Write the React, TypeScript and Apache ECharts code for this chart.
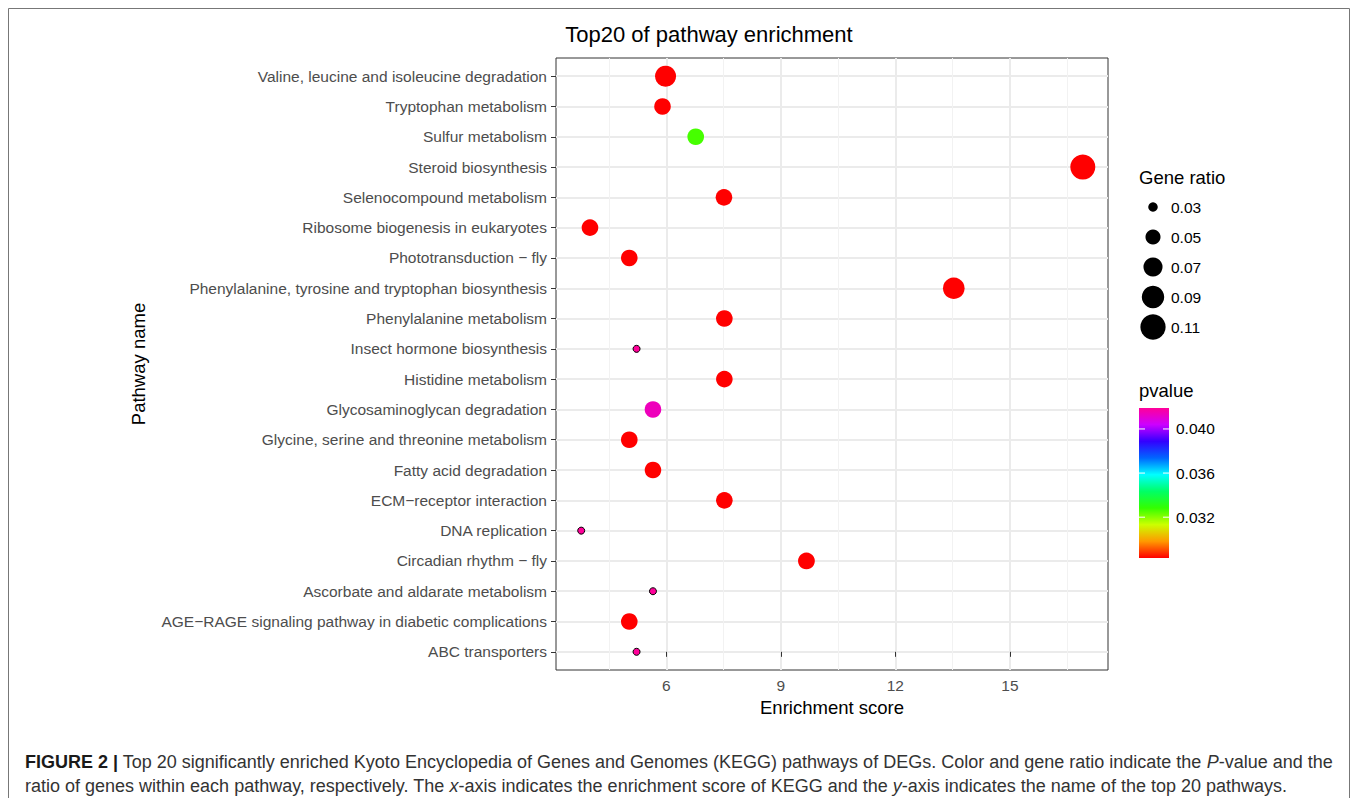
import React, { useEffect, useRef } from "react";
import * as echarts from "echarts";

// ---------- data (bottom to top, as in the plot) ----------
const pathways = [
  "ABC transporters",
  "AGE\u2212RAGE signaling pathway in diabetic complications",
  "Ascorbate and aldarate metabolism",
  "Circadian rhythm \u2212 fly",
  "DNA replication",
  "ECM\u2212receptor interaction",
  "Fatty acid degradation",
  "Glycine, serine and threonine metabolism",
  "Glycosaminoglycan degradation",
  "Histidine metabolism",
  "Insect hormone biosynthesis",
  "Phenylalanine metabolism",
  "Phenylalanine, tyrosine and tryptophan biosynthesis",
  "Phototransduction \u2212 fly",
  "Ribosome biogenesis in eukaryotes",
  "Selenocompound metabolism",
  "Steroid biosynthesis",
  "Sulfur metabolism",
  "Tryptophan metabolism",
  "Valine, leucine and isoleucine degradation",
];
const enrichmentScore = [
  5.22, 5.03, 5.65, 9.67, 3.77, 7.52, 5.65, 5.03, 5.65, 7.52,
  5.22, 7.52, 13.53, 5.03, 4.0, 7.51, 16.91, 6.77, 5.9, 5.98,
];
const geneRatio = [
  0.024, 0.057, 0.024, 0.058, 0.024, 0.057, 0.057, 0.057, 0.057, 0.057,
  0.024, 0.057, 0.085, 0.057, 0.057, 0.057, 0.108, 0.057, 0.057, 0.081,
];
const pValue = [
  0.0419, 0.0283, 0.0419, 0.0283, 0.0419, 0.0283, 0.0283, 0.0283, 0.0414, 0.0283,
  0.0419, 0.0283, 0.0283, 0.0283, 0.0283, 0.0283, 0.0283, 0.03265, 0.0283, 0.0283,
];

const xMajorTicks = [6, 9, 12, 15];
const xMinorTicks = [4.5, 7.5, 10.5, 13.5, 16.5];
const sizeBreaks = [0.03, 0.05, 0.07, 0.09, 0.11];
const sizeBreakLabels = ["0.03", "0.05", "0.07", "0.09", "0.11"];
const pBreaks = [0.032, 0.036, 0.04];
const pBreakLabels = ["0.032", "0.036", "0.040"];
const rainbow10 = [
  "#FF0000", "#FF9900", "#CCFF00", "#33FF00", "#00FF66",
  "#00FFFF", "#0066FF", "#3300FF", "#CC00FF", "#FF0099",
];

// scales
const RATIO_MIN = 0.024;
const RATIO_MAX = 0.108;
const D_MIN = 7;
const D_MAX = 25;
const P_MIN = 0.0283;
const P_MAX = 0.0419;
const X_MIN = 3.11;
const X_MAX = 17.57;

function sizeOf(r: number) {
  const t = (r - RATIO_MIN) / (RATIO_MAX - RATIO_MIN);
  const a0 = (D_MIN / 2) ** 2;
  const a1 = (D_MAX / 2) ** 2;
  return 2 * Math.sqrt(Math.max(0, a0 + t * (a1 - a0)));
}

const FONT = "'Liberation Sans', Arial, Helvetica, sans-serif";

export default function App() {
  const ref = useRef<HTMLDivElement>(null);

  useEffect(() => {
    const chart = echarts.init(ref.current!, null, { renderer: "svg" });

    const points = pathways.map((name, i) => ({
      name,
      value: [enrichmentScore[i], i, geneRatio[i], pValue[i]],
      itemStyle:
        geneRatio[i] < 0.03
          ? { borderColor: "#000", borderWidth: 1, opacity: 1 }
          : { borderWidth: 0, opacity: 1 },
    }));

    const graphics: any[] = [];
    // outer frame
    graphics.push({
      type: "rect",
      silent: true,
      shape: { x: 0.5, y: 0.5, width: 1341, height: 830 },
      style: { fill: "none", stroke: "#777", lineWidth: 1 },
    });
    // size legend
    graphics.push({
      type: "text",
      x: 1131,
      y: 169,
      style: { text: "Gene ratio", font: `18.5px ${FONT}`, fill: "#000", verticalAlign: "middle" },
    });
    sizeBreaks.forEach((b, i) => {
      const cy = 199 + i * 30;
      graphics.push({
        type: "circle",
        shape: { cx: 1145, cy, r: sizeOf(b) / 2 },
        style: { fill: "#000" },
      });
      graphics.push({
        type: "text",
        x: 1163,
        y: cy,
        style: { text: sizeBreakLabels[i], font: `15.5px ${FONT}`, fill: "#000", verticalAlign: "middle" },
      });
    });
    // colour bar
    const CB_X = 1131, CB_TOP = 400, CB_W = 30, CB_H = 150;
    const pY = (v: number) => CB_TOP + CB_H * (1 - (v - P_MIN) / (P_MAX - P_MIN));
    graphics.push({
      type: "text",
      x: 1131,
      y: 382,
      style: { text: "pvalue", font: `18.5px ${FONT}`, fill: "#000", verticalAlign: "middle" },
    });
    graphics.push({
      type: "rect",
      shape: { x: CB_X, y: CB_TOP, width: CB_W, height: CB_H },
      style: {
        fill: new echarts.graphic.LinearGradient(
          0, 1, 0, 0,
          rainbow10.map((c, i) => ({ offset: i / (rainbow10.length - 1), color: c }))
        ),
      },
    });
    pBreaks.forEach((b, i) => {
      const y = pY(b);
      graphics.push({
        type: "line",
        shape: { x1: CB_X, y1: y, x2: CB_X + 6, y2: y },
        style: { stroke: "#fff", lineWidth: 1 },
      });
      graphics.push({
        type: "line",
        shape: { x1: CB_X + CB_W - 6, y1: y, x2: CB_X + CB_W, y2: y },
        style: { stroke: "#fff", lineWidth: 1 },
      });
      graphics.push({
        type: "text",
        x: 1168,
        y,
        style: { text: pBreakLabels[i], font: `15.5px ${FONT}`, fill: "#000", verticalAlign: "middle" },
      });
    });
    // caption
    const CAP = 18;
    const rich = {
      b: { fontFamily: FONT, fontSize: CAP, fontWeight: "bold", fill: "#1a1a1a" },
      i: { fontFamily: FONT, fontSize: CAP, fontStyle: "italic", fill: "#333" },
      n: { fontFamily: FONT, fontSize: CAP, fill: "#333" },
    };
    graphics.push({
      type: "text",
      x: 17,
      y: 754,
      style: {
        text:
          "{b|FIGURE 2 |}{n| Top 20 significantly enriched Kyoto Encyclopedia of Genes and Genomes (KEGG) pathways of DEGs. Color and gene ratio indicate the }{i|P}{n|-value and the}",
        rich,
        font: `${CAP}px ${FONT}`,
        fill: "#333",
        verticalAlign: "middle",
      },
    });
    graphics.push({
      type: "text",
      x: 17,
      y: 778,
      style: {
        text:
          "{n|ratio of genes within each pathway, respectively. The }{i|x}{n|-axis indicates the enrichment score of KEGG and the }{i|y}{n|-axis indicates the name of the top 20 pathways.}",
        rich,
        font: `${CAP}px ${FONT}`,
        fill: "#333",
        verticalAlign: "middle",
      },
    });

    const option: any = {
      animation: false,
      backgroundColor: "#fff",
      title: {
        text: "Top20 of pathway enrichment",
        left: 696,
        top: 10,
        textAlign: "center",
        textStyle: { fontFamily: FONT, fontSize: 22, fontWeight: "normal", color: "#000" },
      },
      grid: {
        left: 548,
        top: 50,
        width: 552,
        height: 612,
        show: true,
        borderColor: "#333",
        borderWidth: 1,
        backgroundColor: "transparent",
        containLabel: false,
      },
      xAxis: [
        {
          type: "value",
          min: X_MIN,
          max: X_MAX,
          name: "Enrichment score",
          nameLocation: "middle",
          nameGap: 28,
          nameTextStyle: { fontFamily: FONT, fontSize: 18.5, color: "#000" },
          axisLine: { show: false },
          axisTick: {
            show: true,
            length: 5,
            customValues: xMajorTicks,
            lineStyle: { color: "#333", width: 1 },
          },
          axisLabel: {
            customValues: xMajorTicks,
            margin: 7,
            fontFamily: FONT,
            fontSize: 15.5,
            color: "#4D4D4D",
          },
          splitLine: { show: true, lineStyle: { color: "#EBEBEB", width: 2 } },
        },
        {
          type: "value",
          min: X_MIN,
          max: X_MAX,
          position: "bottom",
          axisLine: { show: false },
          axisTick: { show: false, customValues: xMinorTicks },
          axisLabel: { show: false, customValues: xMinorTicks },
          splitLine: { show: true, lineStyle: { color: "#F2F2F2", width: 1 } },
        },
      ],
      yAxis: {
        type: "value",
        min: -0.6,
        max: 19.6,
        name: "Pathway name",
        nameLocation: "middle",
        nameRotate: 90,
        nameGap: 408,
        nameTextStyle: { fontFamily: FONT, fontSize: 18.5, color: "#000" },
        axisLine: { show: false },
        axisTick: {
          show: true,
          length: 5,
          customValues: pathways.map((_, i) => i),
          lineStyle: { color: "#333", width: 1 },
        },
        axisLabel: {
          customValues: pathways.map((_, i) => i),
          formatter: (v: number) => pathways[Math.round(v)] ?? "",
          margin: 9,
          fontFamily: FONT,
          fontSize: 15.5,
          color: "#4D4D4D",
        },
        splitLine: { show: true, lineStyle: { color: "#EBEBEB", width: 2 } },
      },
      visualMap: {
        type: "continuous",
        show: false,
        dimension: 3,
        seriesIndex: 0,
        min: P_MIN,
        max: P_MAX,
        inRange: { color: rainbow10 },
      },
      series: [
        {
          type: "scatter",
          xAxisIndex: 0,
          yAxisIndex: 0,
          symbol: "circle",
          symbolSize: (val: number[]) => sizeOf(val[2]),
          itemStyle: { opacity: 1 },
          data: points,
          z: 5,
        },
      ],
      graphic: graphics,
    };

    chart.setOption(option);
    return () => chart.dispose();
  }, []);

  return <div ref={ref} style={{ width: 1342, height: 790 }} />;
}
